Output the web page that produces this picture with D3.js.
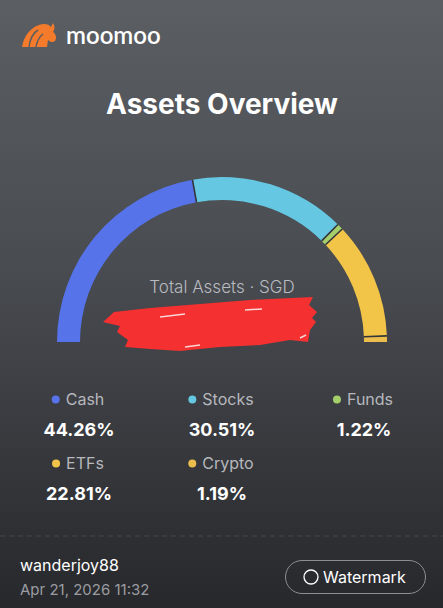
<!DOCTYPE html>
<html>
<head>
<meta charset="utf-8">
<script src="https://cdn.jsdelivr.net/npm/d3@7"></script>
<style>
  body { margin: 0; background: #2a2b2f; }
  svg { display: block; font-family: Inter, "Noto Sans", sans-serif; }
</style>
</head>
<body>
<svg id="card"></svg>
<script>
// asset allocation
const categories = ["Cash", "Stocks", "Funds", "ETFs", "Crypto"];
const shares = [44.26, 30.51, 1.22, 22.81, 1.19];
const colors = ["#5673ea", "#65c7e1", "#a5cf6a", "#f2c549", "#ebbd4c"];
const shareLabels = ["44.26%", "30.51%", "1.22%", "22.81%", "1.19%"];

const width = 443, height = 608;
const svg = d3.select("#card")
    .attr("width", width)
    .attr("height", height);

// background gradient
const defs = svg.append("defs");
const grad = defs.append("linearGradient")
    .attr("id", "bg")
    .attr("x1", 0).attr("y1", 0).attr("x2", 0).attr("y2", 1);
grad.append("stop").attr("offset", "0%").attr("stop-color", "#5b5e62");
grad.append("stop").attr("offset", "45%").attr("stop-color", "#484b50");
grad.append("stop").attr("offset", "100%").attr("stop-color", "#27282c");

svg.append("rect")
    .attr("width", width)
    .attr("height", height)
    .attr("fill", "url(#bg)");

// logo
const logo = svg.append("g").attr("transform", "translate(20,20)");
logo.append("path")
    .attr("d", "M2,27 C4,16 10,8 19,5 C24,3 29,4 31,7 L33,3 C35,6 35,9 33,12 C36,14 37,18 35,21 C33,23 30,22 28,20 L27,27 Z")
    .attr("fill", "#f47a2c");
logo.append("path")
    .attr("d", "M9,27 C10,19 13,13 18,10 M16,27 C17,21 19,17 23,14")
    .attr("stroke", "#5b5e62")
    .attr("stroke-width", 1.5)
    .attr("fill", "none");
svg.append("text")
    .attr("x", 66)
    .attr("y", 44)
    .attr("fill", "#ffffff")
    .attr("font-size", "24px")
    .attr("font-weight", 600)
    .attr("font-family", "Lato, sans-serif")
    .text("moomoo");

// title
svg.append("text")
    .attr("x", 222)
    .attr("y", 114)
    .attr("text-anchor", "middle")
    .attr("fill", "#ffffff")
    .attr("font-size", "28px")
    .attr("font-weight", 700)
    .text("Assets Overview");

// gauge
const cx = 222, cy = 342;
const pie = d3.pie()
    .sort(null)
    .startAngle(-Math.PI / 2)
    .endAngle(Math.PI / 2)
    .value(d => d);
const arc = d3.arc()
    .innerRadius(142)
    .outerRadius(165);
const slices = pie(shares);

const gauge = svg.append("g").attr("transform", `translate(${cx},${cy})`);
gauge.selectAll("path")
    .data(slices)
    .join("path")
    .attr("d", arc)
    .attr("fill", (d, i) => colors[i]);

// dark separators between segments
gauge.selectAll("line")
    .data(slices.slice(0, -1))
    .join("line")
    .attr("x1", d => d3.pointRadial(d.endAngle, 142)[0])
    .attr("y1", d => d3.pointRadial(d.endAngle, 142)[1])
    .attr("x2", d => d3.pointRadial(d.endAngle, 165)[0])
    .attr("y2", d => d3.pointRadial(d.endAngle, 165)[1])
    .attr("stroke", "#33353a")
    .attr("stroke-width", 1.6);

svg.append("text")
    .attr("x", 222)
    .attr("y", 293)
    .attr("text-anchor", "middle")
    .attr("fill", "#b9bbc0")
    .attr("font-size", "17px")
    .attr("font-weight", 300)
    .text("Total Assets · SGD");

// redaction scribble
svg.append("path")
    .attr("d", "M103,322 L114,312 L150,308 L200,304 L250,300 L313,297 L309,305 L317,312 L312,318 L316,322 L310,330 L308,342 L290,340 L260,345 L220,347 L180,351 L150,349 L125,347 L128,340 L117,332 L120,326 Z")
    .attr("fill", "#f43030");
svg.append("path")
    .attr("d", "M160,317 L185,314 M245,310 L262,309 M300,338 L306,335 M185,347 L200,345")
    .attr("stroke", "#ffffff")
    .attr("stroke-width", 1.5)
    .attr("opacity", 0.8);

// legend
const colX = [79, 222, 364];
const rowY = [405, 469];
const legend = svg.append("g");
categories.forEach((c, i) => {
    const x = colX[i % 3], y = rowY[Math.floor(i / 3)];
    const g = legend.append("g");
    const label = g.append("text")
        .attr("x", x + 6)
        .attr("y", y)
        .attr("text-anchor", "middle")
        .attr("fill", "#b6b8bd")
        .attr("font-size", "16px")
        .text(c);
    const w = label.node().getComputedTextLength();
    g.append("circle")
        .attr("cx", x + 6 - w / 2 - 10)
        .attr("cy", y - 5.5)
        .attr("r", 4)
        .attr("fill", colors[i]);
    g.append("text")
        .attr("x", x)
        .attr("y", y + 31)
        .attr("text-anchor", "middle")
        .attr("fill", "#ffffff")
        .attr("font-size", "18px")
        .attr("font-weight", 700)
        .text(shareLabels[i]);
});

// footer
svg.append("line")
    .attr("x1", 0).attr("x2", width)
    .attr("y1", 536).attr("y2", 536)
    .attr("stroke", "#46484c")
    .attr("stroke-dasharray", "5,4");
svg.append("text")
    .attr("x", 20)
    .attr("y", 571)
    .attr("fill", "#ffffff")
    .attr("font-size", "16px")
    .text("wanderjoy88");
svg.append("text")
    .attr("x", 20)
    .attr("y", 595)
    .attr("fill", "#9a9ca1")
    .attr("font-size", "15px")
    .text("Apr 21, 2026 11:32");

svg.append("rect")
    .attr("x", 285.5).attr("y", 560.5)
    .attr("width", 140).attr("height", 33)
    .attr("rx", 16.5)
    .attr("fill", "none")
    .attr("stroke", "#8c8e92");
svg.append("circle")
    .attr("cx", 311).attr("cy", 577)
    .attr("r", 7)
    .attr("fill", "none")
    .attr("stroke", "#ffffff")
    .attr("stroke-width", 1.3);
svg.append("text")
    .attr("x", 323)
    .attr("y", 583)
    .attr("fill", "#ffffff")
    .attr("font-size", "16px")
    .text("Watermark");
</script>
</body>
</html>
